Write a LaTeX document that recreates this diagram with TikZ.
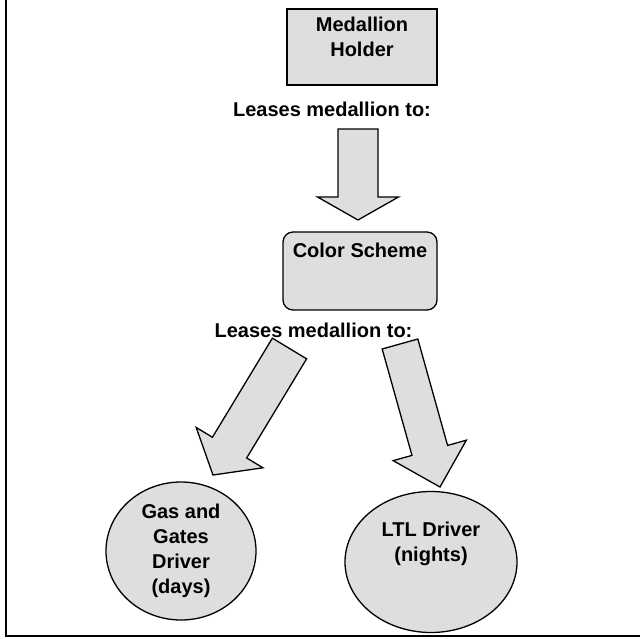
\documentclass[tikz,border=0pt]{standalone}
\usepackage{fontspec}
\setmainfont{Liberation Sans}
\usepackage{tikz}
\usepackage{xcolor}
\usetikzlibrary{calc,shapes.geometric}

\definecolor{stipple}{gray}{0.87}

\tikzset{
  every node/.style={font=\bfseries\fontsize{20}{25}\selectfont},
  plainbox/.style={draw,line width=1.6pt,fill=stipple,minimum width=150pt,minimum height=76pt},
  roundbox/.style={draw,line width=1.3pt,fill=stipple,rounded corners=10pt,minimum width=154pt,minimum height=78pt},
  driver/.style={draw,ellipse,line width=1.3pt,fill=stipple,inner sep=0pt},
  arrowbody/.style={draw,line width=1.3pt,fill=stipple,line join=miter}
}

% tail, tip, shaft half width, head half width, head length
\newcommand{\fatarrow}[5]{%
  \path ($(#2)!#5!(#1)$) coordinate (hb);
  \draw[arrowbody] ($(#1)!#3!90:(#2)$) -- ($(hb)!#3!90:(#2)$) -- ($(hb)!#4!90:(#2)$) -- (#2)
    -- ($(hb)!#4!-90:(#2)$) -- ($(hb)!#3!-90:(#2)$) -- ($(#1)!#3!-90:(#2)$) -- cycle;
}

\begin{document}
\begin{tikzpicture}[x=1pt,y=-1pt]
  \useasboundingbox (0,0) rectangle (643,639);

  % frame
  \draw[line width=2.5pt] (6,0) -- (6,636) -- (640,636);

  \node[plainbox,label={[yshift=10pt,align=center]center:Medallion\\Holder}] (holder) at (362,47) {};
  \node (leasesA) at (332,109) {Leases medallion to:};

  \node[roundbox,label={[yshift=21pt]center:Color Scheme}] (scheme) at (360,271) {};
  \node (leasesB) at (313.5,330) {Leases medallion to:};

  \node[driver,minimum width=150pt,minimum height=138pt,align=center] (gasdriver) at (181,551) {Gas and\\Gates\\Driver\\(days)};
  \node[driver,minimum width=172pt,minimum height=141pt,label={[yshift=18pt,align=center]center:LTL Driver\\(nights)}] (ltldriver) at (431,562) {};

  % block arrows
  \coordinate (downtail) at (358,129);
  \coordinate (downtip) at (358,220);
  \coordinate (lefttail) at (289.5,348.5);
  \coordinate (lefttip) at (213,475);
  \coordinate (righttail) at (400,344);
  \coordinate (righttip) at (440,487);

  \fatarrow{downtail}{downtip}{20pt}{40.5pt}{23pt}
  \fatarrow{lefttail}{lefttip}{20pt}{39pt}{32pt}
  \fatarrow{righttail}{righttip}{18.5pt}{38pt}{38pt}
\end{tikzpicture}
\end{document}
